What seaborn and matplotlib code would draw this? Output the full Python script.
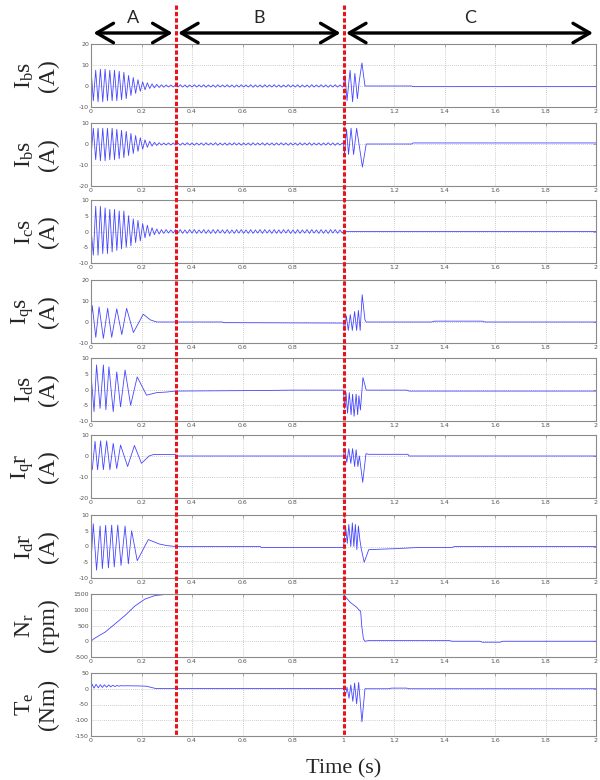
import numpy as np
import pandas as pd
import matplotlib
matplotlib.use("Agg")
import matplotlib.pyplot as plt
import seaborn as sns

# ------------------------------------------------------------------ data
time_ticks = [0, 0.2, 0.4, 0.6, 0.8, 1.0, 1.2, 1.4, 1.6, 1.8, 2.0]
time_tick_labels = ["0", "0.2", "0.4", "0.6", "0.8", "1", "1.2", "1.4", "1.6", "1.8", "2"]
phase_names = ["A", "B", "C"]
phase_edges = [0.0, 0.335, 1.0, 2.0]

# turning points of the supply-frequency stator currents are spaced by half a period
half_period = 0.0093

# I_bs (top panel): turning points 0 .. 1.0 s, then knots of the transient
ias_ab = [8, -7, 7.5, -7.5, 8, -7.5, 8, -7, 7.5, -7, 7.5, -7, 7, -6.5, 6.5, -6, 5, -4.5,
          4, -3.5, 3, -2.5, 2, -1.8, 1.5, -1.2, 1, -0.9, 0.8, -0.7, 0.6, -0.6, 0.5, -0.5, 0.5, -0.5,
          0.5, -0.5, 0.6, -0.5, 0.5, -0.6, 0.5, -0.5, 0.6, -0.5, 0.5, -0.5,
          0.6, -0.6, 0.5, -0.5, 0.5, -0.6, 0.6, -0.5, 0.5, -0.5, 0.6, -0.5,
          0.5, -0.6, 0.5, -0.5, 0.6, -0.5, 0.5, -0.5, 0.6, -0.6, 0.5, -0.5,
          0.5, -0.6, 0.6, -0.5, 0.5, -0.5, 0.6, -0.5, 0.5, -0.6, 0.5, -0.5,
          0.6, -0.5, 0.5, -0.5, 0.6, -0.6, 0.5, -0.5, 0.5, -0.6, 0.6, -0.5,
          0.5, -0.5, 0.6, -0.5, 0.5, -0.6, 0.5, -0.5, 0.6, -0.5, 0.5, -0.5]
ias_c_t = [1.0, 1.006, 1.014, 1.026, 1.036, 1.045, 1.055, 1.062, 1.073, 1.085, 1.27, 1.275, 2.0]
ias_c_v = [0, 5, -7, 7.5, -7.5, 6, -6, 2, 11, 0, 0, -0.3, -0.3]

# I_bs (second panel)
ibs_ab = [-6, 7.5, -7.5, 7.5, -8, 7.5, -8, 7.5, -7.5, 7.5, -7.5, 7, -7, 6.5, -6.5, 6, -5.5, 5,
          -4.5, 4, -3.5, 3, -2.5, 2, -1.6, 1.3, -1, 0.8, -0.7, 0.6, -0.5, 0.5, -0.5, 0.5, -0.5, 0.5,
          -0.5, 0.5, -0.6, 0.5, -0.5, 0.6, -0.5, 0.5, -0.6, 0.5, -0.5, 0.5,
          -0.6, 0.6, -0.5, 0.5, -0.5, 0.6, -0.6, 0.5, -0.5, 0.5, -0.6, 0.5,
          -0.5, 0.6, -0.5, 0.5, -0.6, 0.5, -0.5, 0.5, -0.6, 0.6, -0.5, 0.5,
          -0.5, 0.6, -0.6, 0.5, -0.5, 0.5, -0.6, 0.5, -0.5, 0.6, -0.5, 0.5,
          -0.6, 0.5, -0.5, 0.5, -0.6, 0.6, -0.5, 0.5, -0.5, 0.6, -0.6, 0.5,
          -0.5, 0.5, -0.6, 0.5, -0.5, 0.6, -0.5, 0.5, -0.6, 0.5, -0.5, 0.5]
ibs_c_t = [1.0, 1.004, 1.012, 1.02, 1.03, 1.04, 1.052, 1.075, 1.09, 1.27, 1.275, 2.0]
ibs_c_v = [0, -5, 7, -5, 7.5, -5, 7.5, -11, 0, 0, 0.5, 0.5]

# I_cs
ics_ab = [1, -7.5, 8, -7.5, 8, -7, 7.5, -7, 7, -6.5, 7, -6, 6.5, -5.5, 6.5, -5, 5, -4.5,
          4, -3.5, 3.5, -3, 2.5, -2, 2, -1.5, 1.2, -1, 0.8, -0.8, 0.6, -0.6, 0.6, -0.5, 0.5, -0.5,
          0.6, -0.5, 0.6, -0.6, 0.5, -0.6, 0.6, -0.5, 0.6, -0.6, 0.5, -0.5,
          0.6, -0.6, 0.5, -0.6, 0.6, -0.6, 0.6, -0.5, 0.5, -0.6, 0.6, -0.6,
          0.5, -0.6, 0.6, -0.5, 0.6, -0.6, 0.5, -0.6, 0.6, -0.6, 0.5, -0.5,
          0.6, -0.6, 0.6, -0.5, 0.5, -0.6, 0.6, -0.6, 0.5, -0.6, 0.6, -0.5,
          0.6, -0.6, 0.5, -0.6, 0.6, -0.6, 0.5, -0.5, 0.6, -0.6, 0.6, -0.5,
          0.5, -0.6, 0.6, -0.6, 0.5, -0.6, 0.6, -0.5, 0.6, -0.6, 0.5, -0.5]
ics_c_t = [1.0, 2.0]
ics_c_v = [0, 0]

# I_qs
iqs_t = [0, 0.005, 0.019, 0.032, 0.049, 0.066, 0.082, 0.102, 0.122, 0.141,
         0.168, 0.207, 0.235, 0.26, 0.52, 0.525, 0.98, 1.0,
         1.004, 1.011, 1.019, 1.027, 1.035, 1.044, 1.052, 1.059, 1.066, 1.074,
         1.085, 1.09, 1.35, 1.36, 1.55, 1.56, 2.0]
iqs_v = [0, 7.8, -7.3, 7.2, -7.8, 6.5, -7.3, 6.3, -6, 6.5,
         -5, 3.7, 1, 0, 0, -0.3, -0.5, -0.5,
         -4, 3, -4, 3.5, -4, 5, -4, 5.5, -4, 13,
         1, 0, 0, 0.4, 0.4, 0, 0]

# I_ds
ids_t = [0, 0.012, 0.022, 0.036, 0.049, 0.059, 0.071, 0.088, 0.102, 0.117, 0.135, 0.157, 0.183, 0.220,
         0.26, 0.30, 0.335, 0.7, 0.8, 1.0,
         1.004, 1.010, 1.016, 1.023, 1.030, 1.036, 1.042, 1.050, 1.056, 1.061, 1.067, 1.077,
         1.09, 1.25, 1.26, 2.0]
ids_v = [5, -7, 7.8, -6, 7.8, -6.4, 7.2, -7, 5.6, -5.5, 6.2, -5, 4, -1.8,
         -1, -0.8, -0.5, -0.3, -0.2, -0.2,
         -6, -1, -7.5, -1, -8, -1.5, -8.5, -1.5, -8, -2, -6.5, 3.8,
         -0.2, -0.2, -0.5, -0.5]

# I_qr
iqr_t = [0, 0.005, 0.016, 0.026, 0.038, 0.049, 0.062, 0.075, 0.088, 0.102,
         0.117, 0.145, 0.172, 0.200, 0.23, 0.247, 0.334, 0.336, 1.0,
         1.005, 1.013, 1.021, 1.029, 1.036, 1.044, 1.050, 1.057, 1.063, 1.076,
         1.089, 1.10, 1.255, 1.26, 2.0]
iqr_v = [-4, -6.5, 7, -6.5, 7.2, -6.5, 7.2, -6.5, 6, -6,
         5.2, -5, 5, -3.5, 0, 0.7, 0.7, 0, 0,
         3.5, -3, 3.5, -3.5, 3.5, -5, 3, -5, 0, -12.5,
         1.1, 0.8, 0.8, 0, 0]

# I_dr
idr_t = [0, 0.009, 0.022, 0.036, 0.045, 0.058, 0.069, 0.082, 0.092, 0.106,
         0.119, 0.135, 0.148, 0.161, 0.183, 0.227, 0.27, 0.30, 0.335, 0.67,
         0.675, 1.0, 1.008, 1.015, 1.021, 1.029, 1.035, 1.041, 1.047, 1.053,
         1.059, 1.065, 1.071, 1.082, 1.10, 1.2, 1.3, 1.43, 1.44, 2.0]
idr_v = [-5, 7.2, -7.5, 6.5, -7, 6.7, -6.8, 6.8, -6.5, 6.8,
         -6, 6.5, -5.5, 5, -4.5, 2.2, 0.8, 0.3, 0, 0,
         -0.3, -0.3, 6.5, 1, 7, 0, 7.5, 0, 7, -1,
         6.5, 2, -1, -5, -1, -0.7, -0.3, -0.3, 0, 0]

# N_r (rpm)
nr_t = [0, 0.01, 0.03, 0.056, 0.095, 0.135, 0.174, 0.214, 0.253, 0.293,
        0.335, 1.0, 1.026, 1.052, 1.063, 1.068, 1.072, 1.079, 1.085, 1.1,
        1.42, 1.43, 1.54, 1.55, 1.62, 1.63, 2.0]
nr_v = [0, 70, 170, 290, 550, 820, 1120, 1340, 1450, 1485,
        1490, 1480, 1240, 1080, 980, 950, 500, 70, 0, 20,
        20, 0, 0, -30, -30, 0, 0]

# T_e (Nm)
te_t = [0, 0.004, 0.012, 0.020, 0.029, 0.037, 0.045, 0.053, 0.062, 0.070,
        0.078, 0.086, 0.095, 0.103, 0.111, 0.119, 0.128, 0.136,
        0.19, 0.22, 0.255, 0.335, 1.0,
        1.008, 1.014, 1.022, 1.029, 1.037, 1.044, 1.052, 1.060, 1.073, 1.085,
        1.18, 1.19, 1.25, 1.26, 2.0]
te_v = [0, 15, 2, 14, 3, 13, 4, 12.5, 5, 12,
        6, 11, 7, 10.5, 8, 10, 9, 9.5,
        9, 8, 1, 0.5, 0.5,
        -20, 5, -30, 12, -40, 18, -48, 20, -105, 0,
        0, 2, 2, 0, 0]

ylabels = ["I$_\\mathrm{b}$s\n(A)", "I$_\\mathrm{b}$s\n(A)", "I$_\\mathrm{c}$s\n(A)",
           "I$_\\mathrm{q}$s\n(A)", "I$_\\mathrm{d}$s\n(A)", "I$_\\mathrm{q}$r\n(A)",
           "I$_\\mathrm{d}$r\n(A)", "N$_\\mathrm{r}$\n(rpm)", "T$_\\mathrm{e}$\n(Nm)"]
ylims = [(-10, 20), (-20, 10), (-10, 10), (-10, 20), (-10, 10), (-20, 10), (-10, 10),
         (-500, 1500), (-150, 50)]
yticks = [[-10, 0, 10, 20], [-20, -10, 0, 10], [-10, -5, 0, 5, 10], [-10, 0, 10, 20],
          [-10, -5, 0, 5, 10], [-20, -10, 0, 10], [-10, -5, 0, 5, 10],
          [-500, 0, 500, 1000, 1500], [-150, -100, -50, 0, 50]]

# ------------------------------------------------------------------ build series
def grid_series(ab_vals, c_t, c_v):
    t_ab = np.arange(len(ab_vals)) * half_period
    return np.concatenate([t_ab, c_t]), np.concatenate([ab_vals, c_v])

signals = [grid_series(ias_ab, ias_c_t, ias_c_v),
           grid_series(ibs_ab, ibs_c_t, ibs_c_v),
           grid_series(ics_ab, ics_c_t, ics_c_v),
           (np.array(iqs_t), np.array(iqs_v)),
           (np.array(ids_t), np.array(ids_v)),
           (np.array(iqr_t), np.array(iqr_v)),
           (np.array(idr_t), np.array(idr_v)),
           (np.array(nr_t), np.array(nr_v)),
           (np.array(te_t), np.array(te_v))]

# ------------------------------------------------------------------ style
sns.set_style("white")
plt.rcParams["font.family"] = ["Liberation Serif", "DejaVu Serif"]
plt.rcParams["mathtext.fontset"] = "custom"
plt.rcParams["mathtext.rm"] = "Liberation Serif"
plt.rcParams["mathtext.it"] = "Liberation Serif:italic"
plt.rcParams["mathtext.bf"] = "Liberation Serif:bold"
plt.rcParams["axes.unicode_minus"] = False

W, H = 600, 780
left_px, right_px = 91, 596
tops = [44, 123, 200, 280, 358, 435, 515, 594, 673]
ax_h = 63
line_color = "#4646ff"

fig = plt.figure(figsize=(W / 100, H / 100), dpi=100)
fig.patch.set_facecolor("white")

for i, (t, v) in enumerate(signals):
    ax = fig.add_axes([left_px / W, 1 - (tops[i] + ax_h) / H,
                       (right_px - left_px) / W, ax_h / H])
    df = pd.DataFrame({"t": t, "v": v})
    sns.lineplot(data=df, x="t", y="v", ax=ax, color=line_color, linewidth=0.6,
                 estimator=None, sort=False)
    ax.set_xlim(0, 2)
    ax.set_ylim(*ylims[i])
    ax.set_yticks(yticks[i])
    ax.set_xticks(time_ticks)
    ax.set_xticklabels(time_tick_labels, family="DejaVu Sans")
    for lab in ax.get_yticklabels():
        lab.set_family("DejaVu Sans")
    ax.grid(True, linestyle=(0, (1, 2)), color="#a0a0a0", linewidth=0.5)
    ax.set_axisbelow(True)
    ax.set_xlabel("")
    ax.set_ylabel(ylabels[i], fontsize=17, family="Liberation Serif", linespacing=1.1)
    ax.yaxis.set_label_coords(-0.063, 0.5)
    ax.tick_params(axis="both", direction="in", length=2.5, width=0.5, color="#8a8a8a",
                   labelcolor="#555555", labelsize=4.5, pad=1.5, top=True, right=True)
    for s in ax.spines.values():
        s.set_color("#8a8a8a")
        s.set_linewidth(0.8)
        s.set_visible(True)

# overlay with phase boundaries and arrows (pixel y-units, time x-units)
ov = fig.add_axes([left_px / W, 1 - 740 / H, (right_px - left_px) / W, 738 / H], zorder=10)
ov.set_xlim(0, 2)
ov.set_ylim(740, 2)
ov.axis("off")
ov.patch.set_alpha(0)
ov.vlines(phase_edges[1:3], 5, 736, colors="#e8141c", linewidth=2.2,
          linestyles=[(0, (1.4, 0.7))])
for k, name in enumerate(phase_names):
    a, b = phase_edges[k], phase_edges[k + 1]
    ov.annotate("", xy=(a + 0.01, 33), xytext=(b - 0.012, 33),
                arrowprops=dict(arrowstyle="<->,head_length=1.2,head_width=0.7",
                                lw=2.4, color="black", shrinkA=0, shrinkB=0))
    ov.text((a + b) / 2, 18, name, ha="center", va="center", fontsize=13, family="Lato")

fig.text((left_px + right_px) / 2 / W, 1 - 769 / H, "Time (s)", ha="center", va="center",
         fontsize=16, family="Liberation Serif")

fig.savefig("out.png", dpi=100)
